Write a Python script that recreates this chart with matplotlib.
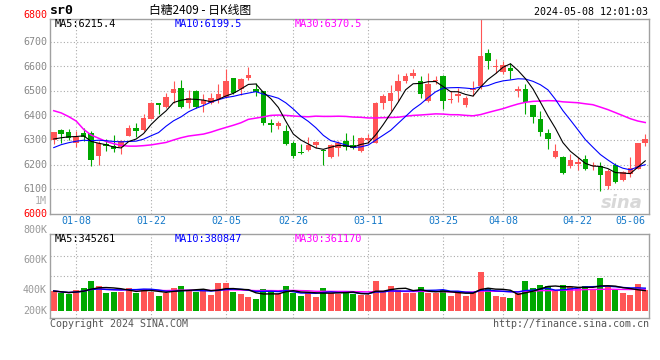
import matplotlib
matplotlib.use("Agg")
import matplotlib.pyplot as plt
import numpy as np
import pandas as pd

plt.rcParams['font.family'] = ['DejaVu Sans Mono', 'Noto Sans CJK SC']

# ---------------- data ----------------
holidays = ['2024-02-09', '2024-02-12', '2024-02-13', '2024-02-14', '2024-02-15',
            '2024-02-16', '2024-04-04', '2024-04-05', '2024-05-01', '2024-05-02', '2024-05-03']
dates = [d.strftime('%m-%d') for d in pd.bdate_range('2024-01-03', '2024-05-08')
         if d.strftime('%Y-%m-%d') not in holidays]

opens = [6300, 6340, 6332, 6290, 6328, 6330, 6236, 6284, 6277, 6271,
         6317, 6350, 6341, 6388, 6450, 6437, 6491, 6511, 6450, 6500,
         6446, 6452, 6467, 6477, 6552, 6509, 6554, 6507, 6500, 6372,
         6358, 6336, 6287, 6253, 6260, 6279, 6259, 6232, 6270, 6296,
         6279, 6255, 6301, 6290, 6450, 6458, 6502, 6540, 6562, 6540,
         6460, 6540, 6562, 6463, 6480, 6443, 6503, 6521, 6654, 6599,
         6578, 6595, 6502, 6510, 6442, 6385, 6328, 6233, 6233, 6195,
         6202, 6222, 6194, 6195, 6114, 6198, 6138, 6161, 6184, 6287]
highs = [6335, 6347, 6346, 6338, 6348, 6336, 6298, 6303, 6320, 6301,
         6361, 6370, 6405, 6456, 6453, 6494, 6541, 6544, 6505, 6505,
         6487, 6491, 6528, 6591, 6552, 6552, 6599, 6532, 6500, 6388,
         6378, 6363, 6297, 6283, 6314, 6297, 6263, 6283, 6297, 6328,
         6320, 6315, 6324, 6456, 6487, 6524, 6568, 6575, 6589, 6562,
         6572, 6562, 6566, 6500, 6514, 6480, 6541, 6800, 6673, 6632,
         6623, 6615, 6521, 6530, 6442, 6418, 6347, 6283, 6235, 6246,
         6232, 6238, 6211, 6211, 6181, 6208, 6175, 6232, 6287, 6324]
lows = [6285, 6289, 6301, 6272, 6298, 6197, 6200, 6258, 6253, 6242,
        6316, 6315, 6338, 6386, 6405, 6433, 6453, 6433, 6433, 6433,
        6415, 6446, 6450, 6473, 6487, 6484, 6546, 6480, 6361, 6334,
        6344, 6280, 6229, 6246, 6255, 6270, 6200, 6229, 6236, 6260,
        6263, 6252, 6287, 6287, 6429, 6419, 6460, 6532, 6555, 6471,
        6456, 6528, 6426, 6453, 6456, 6437, 6480, 6507, 6591, 6575,
        6568, 6550, 6477, 6405, 6372, 6317, 6263, 6228, 6161, 6186,
        6180, 6178, 6178, 6093, 6100, 6125, 6136, 6150, 6181, 6276]
closes = [6332, 6324, 6308, 6312, 6314, 6218, 6287, 6277, 6266, 6295,
          6348, 6338, 6389, 6450, 6443, 6477, 6507, 6437, 6473, 6437,
          6462, 6473, 6487, 6541, 6491, 6550, 6566, 6496, 6369, 6363,
          6372, 6285, 6236, 6249, 6281, 6293, 6256, 6279, 6287, 6271,
          6268, 6309, 6310, 6450, 6480, 6494, 6540, 6562, 6572, 6488,
          6528, 6544, 6460, 6467, 6487, 6473, 6510, 6643, 6623, 6602,
          6605, 6582, 6507, 6456, 6395, 6333, 6304, 6255, 6165, 6218,
          6211, 6181, 6200, 6157, 6175, 6130, 6171, 6188, 6287, 6305]
volumes = [339000, 311000, 288000, 350000, 395000, 508000, 424000, 311000, 316000, 328000,
           395000, 311000, 373000, 328000, 260000, 311000, 395000, 424000, 356000, 316000,
           356000, 271000, 474000, 474000, 328000, 288000, 243000, 209000, 373000, 339000,
           288000, 424000, 299000, 260000, 316000, 243000, 395000, 299000, 282000, 339000,
           288000, 271000, 271000, 508000, 339000, 424000, 356000, 299000, 311000, 407000,
           311000, 299000, 350000, 260000, 339000, 260000, 299000, 661000, 373000, 260000,
           243000, 220000, 311000, 508000, 395000, 441000, 424000, 350000, 441000, 407000,
           384000, 424000, 350000, 559000, 424000, 350000, 299000, 271000, 458000, 350000]

# moving-average values for days whose window starts before Jan 3
ma5_head = [6305, 6310, 6314, 6315]
ma10_head = [6270, 6282, 6290, 6296, 6300, 6298, 6300, 6298, 6295]
ma30_head = [6420, 6411, 6396, 6378, 6344, 6321, 6308, 6295, 6286, 6279,
             6276, 6276, 6278, 6281, 6286, 6291, 6301, 6310, 6317, 6321,
             6325, 6333, 6343, 6352, 6361, 6371, 6385, 6390, 6395]

tick_labels = ['01-08', '01-22', '02-05', '02-26', '03-11', '03-25', '04-08', '04-22', '05-06']
grid_labels = ['01-08', '01-22', '02-05', '02-26', '03-11', '03-25', '04-08', '04-22']
price_levels = [6000, 6100, 6200, 6300, 6400, 6500, 6600, 6700, 6800]
vol_labels = ['800K', '600K', '400K', '200K']

legend_price = ['MA5:6215.4', 'MA10:6199.5', 'MA30:6370.5']
legend_vol = ['MA5:345261', 'MA10:380847', 'MA30:361170']

# ---------------- derived ----------------
O = np.array(opens, float); Hh = np.array(highs, float)
L = np.array(lows, float); C = np.array(closes, float)
V = np.array(volumes, float)
n = len(C)
x = np.arange(n)

def ma(series, w, head):
    m = pd.Series(series).rolling(w).mean().values
    m[:len(head)] = head
    return m

ma5 = ma(C, 5, ma5_head)
ma10 = ma(C, 10, ma10_head)
ma30 = ma(C, 30, ma30_head)
vma5 = pd.Series(V).rolling(5, min_periods=1).mean().values
vma10 = pd.Series(V).rolling(10, min_periods=1).mean().values
vma30 = pd.Series(V).rolling(30, min_periods=1).mean().values

RED = '#ff5555'
GREEN = '#00a800'
up = C >= O
cols = np.where(up, RED, GREEN)

W, Hpx = 660, 360
fig = plt.figure(figsize=(6.6, 3.6), dpi=100)
fig.patch.set_facecolor('white')

def fx(px):
    return px / W

def fy(py):
    return 1 - py / Hpx

ax = fig.add_axes([fx(50), fy(214), 599 / W, 195 / Hpx])
axv = fig.add_axes([fx(50), fy(318.3), 599 / W, 84.3 / Hpx])

GRID = dict(color='#aaaaaa', lw=0.8, ls=(0, (1, 2)), zorder=0)
FRAME = '#a0a0a0'

for a in (ax, axv):
    a.set_xlim(-0.5, n - 0.5)
    a.set_xticks([]); a.set_yticks([])
    for s in a.spines.values():
        s.set_color(FRAME); s.set_linewidth(1.0)
    for lbl in grid_labels:
        a.axvline(dates.index(lbl), **GRID)

# ---------------- price panel ----------------
ax.set_ylim(6000, 6793)
for p in price_levels[1:-1]:
    ax.axhline(p, **GRID)

ax.vlines(x, L, Hh, colors=cols, lw=0.8, zorder=2)
body_h = np.maximum(np.abs(C - O), 3.0)
ax.bar(x, body_h, bottom=np.minimum(O, C), width=0.74, color=cols, linewidth=0, zorder=3)

ax.plot(x, ma30, color='#ff00ff', lw=1.1, zorder=4)
ax.plot(x, ma10, color='#0000ff', lw=0.8, zorder=4)
ax.plot(x, ma5, color='black', lw=0.8, zorder=5)

for p in price_levels:
    colr = '#ff0000' if p in (price_levels[0], price_levels[-1]) else '#888888'
    py = 213.8 - (p - 6000) * 0.2455
    if p == price_levels[-1]:
        py = 15.5
    fig.text(fx(47), fy(py), str(p), color=colr, fontsize=7.2, ha='right', va='center')
fig.text(fx(47), fy(201), '1M', color='#aaaaaa', fontsize=7.2, ha='right', va='center')

for lbl in tick_labels:
    ax.annotate(lbl, xy=(dates.index(lbl), 0), xycoords=('data', 'axes fraction'),
                xytext=(0, -7), textcoords='offset pixels', ha='center', va='center',
                color='#1478c8', fontsize=7.2, annotation_clip=False)

leg_x = [55, 175, 295]
leg_c = ['black', '#0000ff', '#ff00ff']
for t, px, c in zip(legend_price, leg_x, leg_c):
    fig.text(fx(px), fy(24), t, color=c, fontsize=7.4, ha='left', va='center')

fig.text(fx(622), fy(203), 'sina', color='#d8d8d8', fontsize=13, fontweight='bold',
         style='italic', ha='center', va='center', family='DejaVu Sans')

# ---------------- header ----------------
fig.text(fx(50), fy(11), 'sr0', fontsize=9.5, fontweight='bold', ha='left', va='center')
fig.text(fx(200), fy(10.5), '白糖2409 - 日K线图', fontsize=8.5, ha='center', va='center',
         family=['Noto Sans CJK SC', 'DejaVu Sans'])
fig.text(fx(648), fy(12), '2024-05-08 12:01:03', fontsize=7.2, ha='right', va='center')

# ---------------- volume panel ----------------
k = 0.059 / 1000.0  # px per lot
axv.set_ylim(-(318.3 - 311) / k, (311 - 234) / k)
for py in (255.7, 275.7):
    axv.axhline((311 - py) / k, **GRID)
axv.bar(x, V, width=0.8, color=cols, linewidth=0, zorder=2)
axv.plot(x, vma30, color='#ff00ff', lw=1.0, zorder=3)
axv.plot(x, vma10, color='#0000ff', lw=1.0, zorder=3)
axv.plot(x, vma5, color='black', lw=1.0, zorder=4)

for t, py in zip(vol_labels, [230, 260, 290, 311]):
    fig.text(fx(47), fy(py), t, color='#999999', fontsize=7.2, ha='right', va='center')
for t, px, c in zip(legend_vol, leg_x, leg_c):
    fig.text(fx(px), fy(238.5), t, color=c, fontsize=7.4, ha='left', va='center')

fig.text(fx(50), fy(324), 'Copyright 2024 SINA.COM', color='#555555', fontsize=7.2,
         ha='left', va='center')
fig.text(fx(649), fy(324), 'http://finance.sina.com.cn', color='#555555', fontsize=7.2,
         ha='right', va='center')

fig.savefig('out.png', dpi=100)
